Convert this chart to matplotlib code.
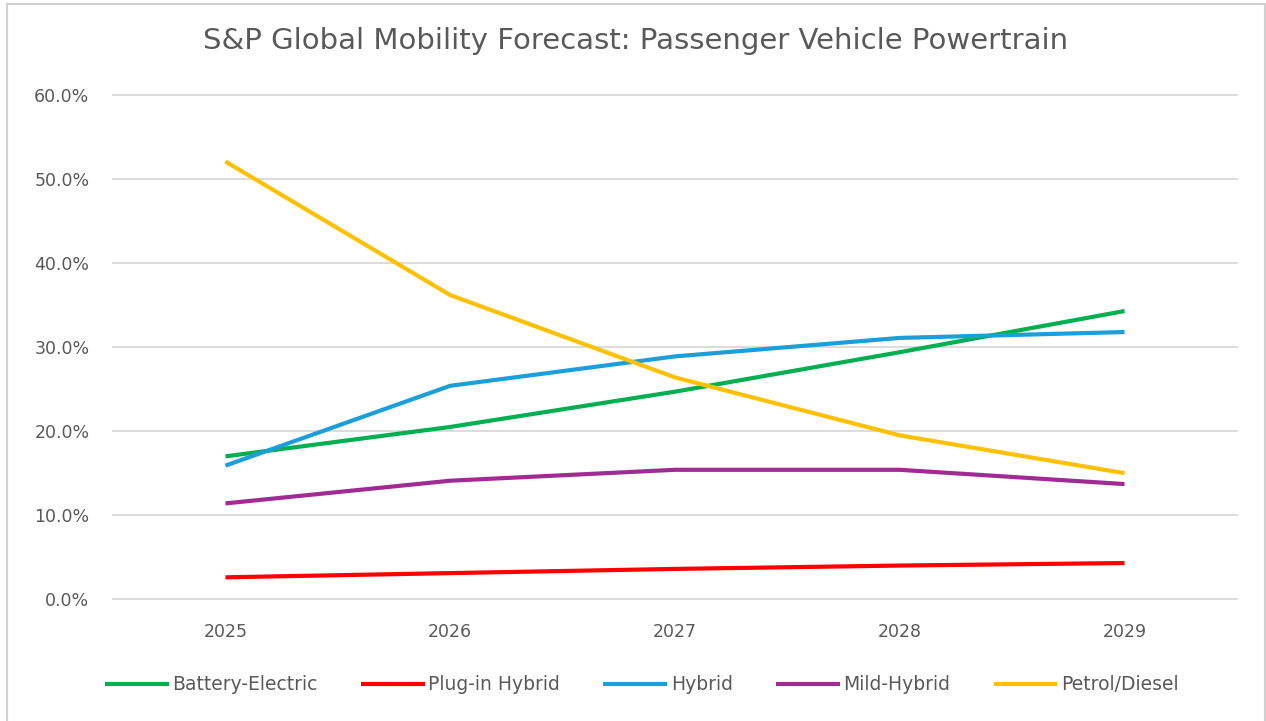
import matplotlib.pyplot as plt
from matplotlib.patches import Rectangle
from matplotlib.ticker import PercentFormatter

plt.rcParams['font.family'] = ['DejaVu Sans']

# forecast share of passenger vehicle sales by powertrain (%)
years = ['2025', '2026', '2027', '2028', '2029']
battery_electric = [17.0, 20.5, 24.7, 29.4, 34.3]
plug_in_hybrid = [2.6, 3.1, 3.6, 4.0, 4.3]
hybrid = [15.9, 25.4, 28.9, 31.1, 31.8]
mild_hybrid = [11.4, 14.1, 15.4, 15.4, 13.7]
petrol_diesel = [52.1, 36.2, 26.4, 19.5, 15.0]

series = [
    ('Battery-Electric', battery_electric, '#00B050'),
    ('Plug-in Hybrid', plug_in_hybrid, '#FF0000'),
    ('Hybrid', hybrid, '#1A9FDB'),
    ('Mild-Hybrid', mild_hybrid, '#A02B93'),
    ('Petrol/Diesel', petrol_diesel, '#FFC000'),
]

text_color = '#595959'

fig = plt.figure(figsize=(12.66, 7.21), dpi=100)
ax = fig.add_axes([0.0893, 0.169, 0.8877, 0.699])

x = range(len(years))
for name, vals, color in series:
    ax.plot(x, vals, color=color, linewidth=3.0, label=name,
            solid_capstyle='butt')

ax.set_xlim(-0.5, len(years) - 0.5)
ax.set_ylim(0, 60)
ax.set_yticks(range(0, 61, 10))
ax.yaxis.set_major_formatter(PercentFormatter(decimals=1))
ax.set_xticks(list(x))
ax.set_xticklabels(years)

ax.grid(axis='y', color='#D9D9D9', linewidth=1.3)
for gl in ax.get_ygridlines():
    gl.set_clip_on(False)
ax.set_axisbelow(True)
for s in ax.spines.values():
    s.set_visible(False)
ax.tick_params(length=0, labelsize=12.5, labelcolor=text_color)
ax.tick_params(axis='y', pad=17)
ax.tick_params(axis='x', pad=17)

fig.suptitle('S&P Global Mobility Forecast: Passenger Vehicle Powertrain',
             x=0.502, y=0.962, fontsize=21, color=text_color)

fig.legend(loc='center', bbox_to_anchor=(0.507, 0.05), ncol=5,
           frameon=False, fontsize=13.5, labelcolor=text_color,
           handlelength=3.4, handletextpad=0.2, columnspacing=2.3)

# thin frame around the chart area
fig.patches.append(Rectangle((0.0055, -0.01), 0.9935, 1.004,
                             transform=fig.transFigure, fill=False,
                             edgecolor='#D0D0D0', linewidth=1.5))

fig.savefig('out.png', dpi=100)
